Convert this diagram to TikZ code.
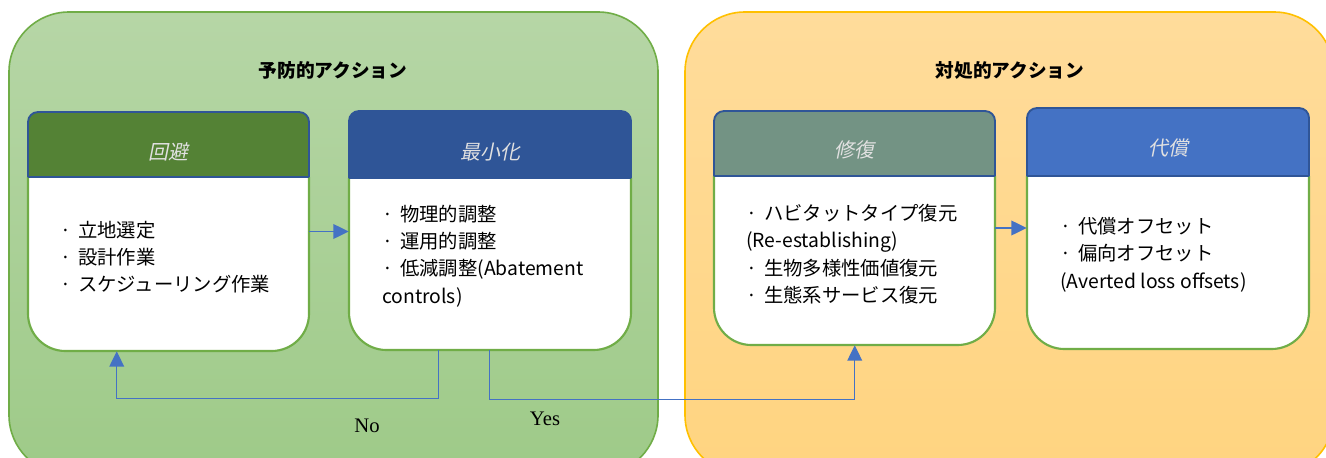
\documentclass[tikz,border=0pt]{standalone}
\usepackage{fontspec}
\usetikzlibrary{arrows.meta,fit,calc}
\newfontfamily\jp{Noto Sans CJK JP}
\newfontfamily\jpit{Noto Sans CJK JP}[FakeSlant=0.2]
\newfontfamily\serifyn{Liberation Serif}
\definecolor{greenfillA}{RGB}{182,214,166}
\definecolor{greenfillB}{RGB}{158,202,136}
\definecolor{greenline}{RGB}{112,173,71}
\definecolor{orangefillA}{RGB}{255,220,155}
\definecolor{orangefillB}{RGB}{255,212,128}
\definecolor{orangeline}{RGB}{255,192,0}
\definecolor{hdrline}{RGB}{47,85,151}
\definecolor{hdrAvoid}{RGB}{84,130,53}
\definecolor{hdrMin}{RGB}{47,85,151}
\definecolor{hdrRest}{RGB}{115,147,132}
\definecolor{hdrComp}{RGB}{68,114,196}
\definecolor{conncol}{RGB}{68,114,196}
\definecolor{hdrtext}{RGB}{225,225,225}
\newcommand\bul{\makebox[13.5pt][l]{·}}
\tikzset{
  panelgreen/.style={draw=greenline, line width=1.2pt, top color=greenfillA, bottom color=greenfillB, rounded corners=45pt},
  panelorange/.style={draw=orangeline, line width=1.2pt, top color=orangefillA, bottom color=orangefillB, rounded corners=45pt},
  paneltitle/.style={font=\jp\bfseries\fontsize{14}{17}\selectfont, text=black},
  hdrtitle/.style={font=\jpit\fontsize{15}{18}\selectfont, text=hdrtext},
  bodytext/.style={font=\jp\fontsize{14.5}{20.5}\selectfont, align=left, anchor=west, inner sep=0pt, text=black},
  boxarea/.style={inner sep=0pt},
  conn/.style={draw=conncol, line width=1.05pt, -{Triangle[length=11.5pt,width=11pt]}},
  ynlabel/.style={font=\serifyn\fontsize{15.5}{18}\selectfont, text=black},
}
% name, x1, y1, x2, y2, header bottom y, header colour
\newcommand\actbox[7]{%
  \filldraw[fill=white, draw=greenline, line width=1.6pt, rounded corners=28pt] (#2,#6) -- (#2,#5) -- (#4,#5) -- (#4,#6);
  \filldraw[fill=#7, draw=hdrline, line width=1.4pt, rounded corners=7.5pt] (#2,#6) -- (#2,#3) -- (#4,#3) -- (#4,#6);
  \draw[hdrline, line width=1.4pt] (#2,#6) -- (#4,#6);
  \node[boxarea, fit={(#2,#3) (#4,#5)}] (#1) {};
}
\begin{document}
\begin{tikzpicture}[x=0.75pt, y=-0.75pt]
\clip (0,0) rectangle (1326,457);
\fill[white] (0,0) rectangle (1326,457);
% panels
\path[panelgreen] (9,12) rectangle (658,475);
\path[panelorange] (685,12) rectangle (1334,475);
\node[paneltitle] (tprev) at (333,70) {予防的アクション};
\node[paneltitle] (tresp) at (1010,70) {対処的アクション};
% boxes
\actbox{avoid}{28}{112}{309}{351}{177}{hdrAvoid}
\actbox{mini}{349}{111}{631}{350}{178}{hdrMin}
\actbox{rest}{714}{111}{995}{345}{176}{hdrRest}
\actbox{comp}{1027}{108}{1309}{349}{176}{hdrComp}
% header titles
\node[hdrtitle] (havoid) at (168.5,152) {回避};
\node[hdrtitle] (hmini) at (490,152) {最小化};
\node[hdrtitle] (hrest) at (854.5,150) {修復};
\node[hdrtitle] (hcomp) at (1168,148) {代償};
% body texts
\node[bodytext] (bavoid) at (60,257) {\bul 立地選定\\\bul 設計作業\\\bul スケジューリング作業};
\node[bodytext] (bmini) at (382,256) {\bul 物理的調整\\\bul 運用的調整\\\bul 低減調整(Abatement\\controls)};
\node[bodytext] (brest) at (746,254) {\bul ハビタットタイプ復元\\(Re-establishing)\\\bul 生物多様性価値復元\\\bul 生態系サービス復元};
\node[bodytext] (bcomp) at (1060,254.5) {\bul 代償オフセット\\\bul 偏向オフセット\\(Averted loss offsets)};
% connectors
\draw[conn] (avoid.east) -- (avoid.east -| mini.west);
\draw[conn] (rest.east) -- (rest.east -| comp.west);
\draw[conn] ($(mini.south west)+(90,0)$) -- ++(0,48) -| ($(avoid.south west)+(89,0)$);
\draw[conn] ($(mini.south west)+(141,0)$) -- ++(0,49) -| ($(rest.south west)+(141,0)$);
% labels
\node[ynlabel] (lno) at (367,426) {No};
\node[ynlabel] (lyes) at (545,419) {Yes};
\end{tikzpicture}
\end{document}
